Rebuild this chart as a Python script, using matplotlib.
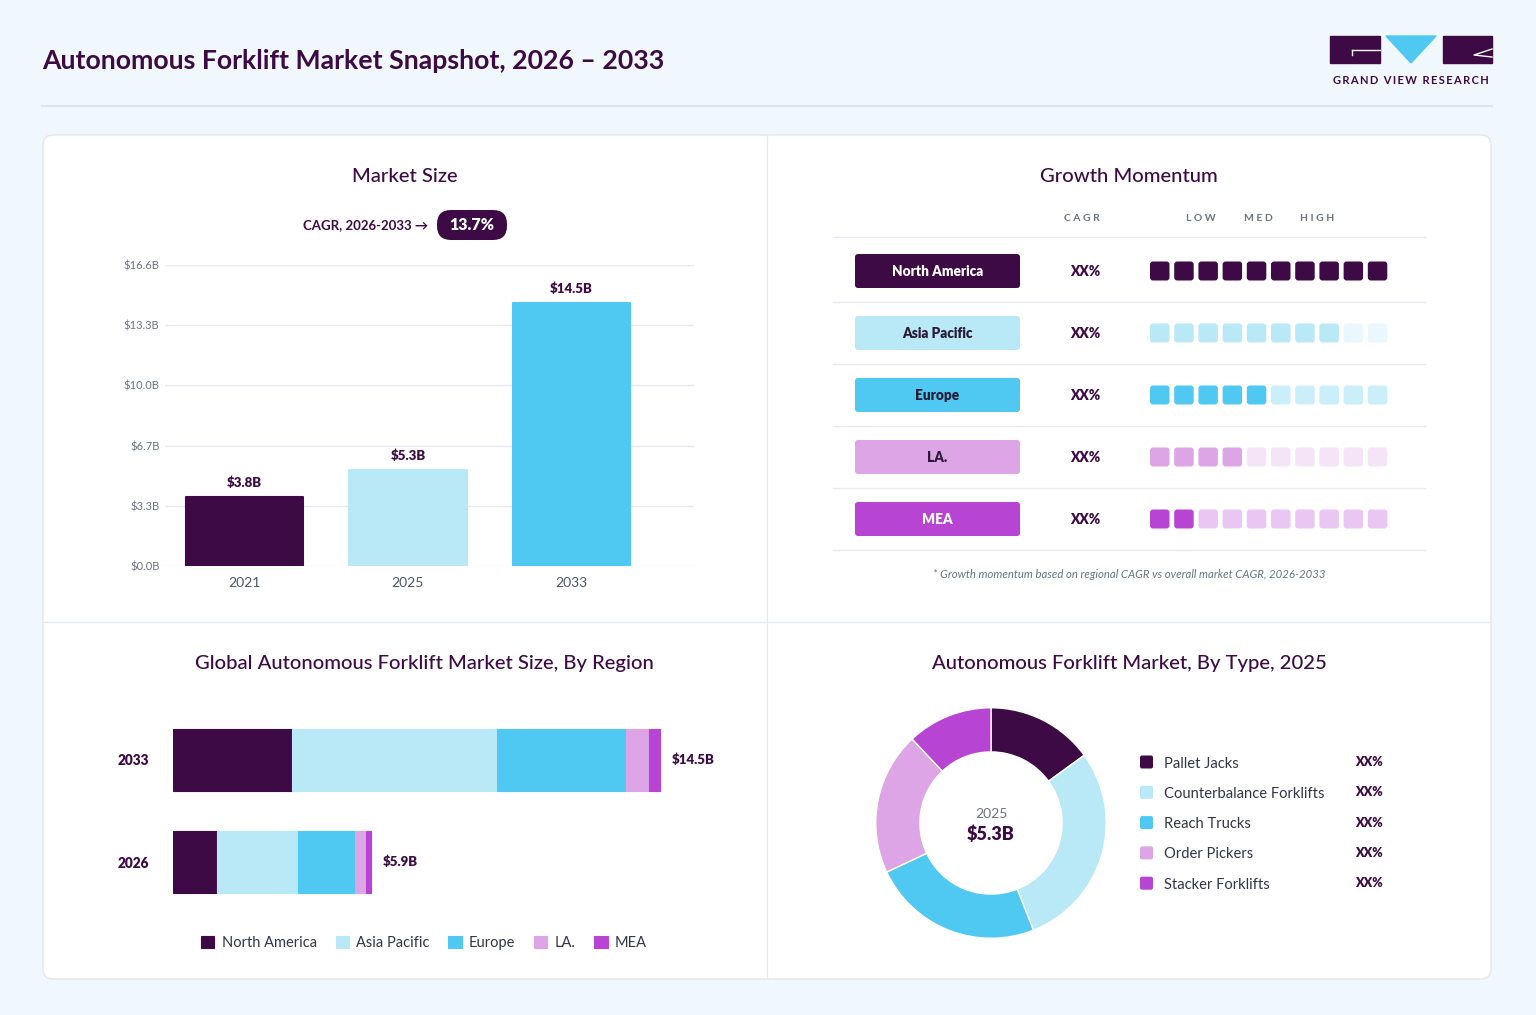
import matplotlib
matplotlib.use('Agg')
import matplotlib.pyplot as plt
from matplotlib.patches import FancyBboxPatch, Rectangle, Polygon
import numpy as np

plt.rcParams['font.family'] = ['Lato', 'DejaVu Sans']

W, H = 1536, 1015

# ---- data ----
years = ['2021', '2025', '2033']
market_size = [3.8, 5.3, 14.5]
cagr_value = '13.7%'
y_ticks = [0, 3.32, 6.64, 9.96, 13.28, 16.6]
y_tick_labels = ['$0.0B', '$3.3B', '$6.7B', '$10.0B', '$13.3B', '$16.6B']

regions = ['North America', 'Asia Pacific', 'Europe', 'LA.', 'MEA']
momentum_filled = [10, 8, 5, 4, 2]
momentum_cagr = ['XX%', 'XX%', 'XX%', 'XX%', 'XX%']

region_years = ['2026', '2033']
region_2026 = [1.32, 2.41, 1.69, 0.32, 0.16]
region_2033 = [3.54, 6.10, 3.83, 0.70, 0.33]

types = ['Pallet Jacks', 'Counterbalance Forklifts', 'Reach Trucks',
         'Order Pickers', 'Stacker Forklifts']
type_share = [15, 29, 24, 20, 12]
type_labels = ['XX%', 'XX%', 'XX%', 'XX%', 'XX%']
donut_year = '2025'
donut_total = '$5.3B'

# ---- colours ----
DARK = '#3D0A45'
AP = '#B9E8F7'
EU = '#4FC9F1'
LA = '#DDA5E6'
MEA = '#B844D4'
colors = [DARK, AP, EU, LA, MEA]
BG = '#F0F7FD'
GRID = '#E6EAF0'
GRAY = '#6B7280'
TXT = '#33334A'


def faint(c, a=0.3):
    r, g, b = matplotlib.colors.to_rgb(c)
    return (1 - a * (1 - r), 1 - a * (1 - g), 1 - a * (1 - b))


def px_axes(x0, y0, x1, y1):
    return fig.add_axes([x0 / W, 1 - y1 / H, (x1 - x0) / W, (y1 - y0) / H])


fig = plt.figure(figsize=(W / 100, H / 100), dpi=100, facecolor=BG)
bg = fig.add_axes([0, 0, 1, 1])
bg.set_xlim(0, W)
bg.set_ylim(H, 0)
bg.axis('off')

# header
bg.text(42, 61, 'Autonomous Forklift Market Snapshot, 2026 \u2013 2033', fontsize=19.2,
        fontweight='bold', color=DARK, va='center', ha='left')
bg.plot([42, 1492], [106, 106], color='#DDE4EE', lw=1.5)

# logo
bg.add_patch(Rectangle((1330, 36), 50, 27, color=DARK))
bg.plot([1352, 1380], [50, 50], color='white', lw=1)
bg.plot([1352, 1352], [50, 55], color='white', lw=1)
bg.add_patch(Polygon([(1386, 36), (1436, 36), (1411, 63)], color=EU))
bg.add_patch(Rectangle((1443, 36), 49, 27, color=DARK))
bg.plot([1492, 1474, 1492], [49, 55, 57], color='white', lw=1)
bg.text(1411, 80, '\u2009'.join('GRAND VIEW RESEARCH'), fontsize=8, color=DARK,
        ha='center', va='center', fontweight='bold')

# card
bg.add_patch(FancyBboxPatch((43, 135), 1448, 844, boxstyle='round,pad=0,rounding_size=10',
                            fc='white', ec='#E1E7EF', lw=1))
bg.plot([767, 767], [135, 979], color='#E6EBF2', lw=1)
bg.plot([43, 1491], [622, 622], color='#E6EBF2', lw=1)

title_kw = dict(fontsize=14.6, color=DARK, ha='center', va='center', fontweight='medium')
bg.text(405, 176, 'Market Size', **title_kw)
bg.text(1129, 176, 'Growth Momentum', **title_kw)
bg.text(424, 663, 'Global Autonomous Forklift Market Size, By Region', **title_kw)
bg.text(1129, 663, 'Autonomous Forklift Market, By Type, 2025', **title_kw)

# ---- market size bars ----
bg.text(428, 225, 'CAGR, 2026-2033 \u2192', fontsize=9.5, fontweight='bold', color=DARK,
        ha='right', va='center')
bg.add_patch(FancyBboxPatch((437, 210), 70, 30, boxstyle='round,pad=0,rounding_size=14',
                            fc=DARK, ec='none'))
bg.text(472, 225, cagr_value, fontsize=11.5, fontweight='heavy', color='white',
        ha='center', va='center')

ax1 = px_axes(165, 265, 694, 566)
x = np.arange(len(years))
ax1.bar(x, market_size, width=0.72, color=colors[:3], edgecolor=colors[:3],
        linewidth=1.5, joinstyle='round', zorder=3)
for i, v in enumerate(market_size):
    ax1.text(i, v + 0.77, f'${v:.1f}B', ha='center', va='center', fontsize=9.5,
             fontweight='heavy', color=DARK)
ax1.set_xlim(-0.486, 2.75)
ax1.set_ylim(0, 16.6)
ax1.set_yticks(y_ticks, y_tick_labels)
ax1.set_xticks(x, years)
ax1.grid(axis='y', color=GRID, lw=1, zorder=0)
ax1.tick_params(axis='y', length=0, pad=4, labelsize=8, labelcolor=GRAY)
ax1.tick_params(axis='x', length=0, pad=8, labelsize=10, labelcolor='#4B5563')
for s in ax1.spines.values():
    s.set_visible(False)
ax1.set_facecolor('none')

# ---- growth momentum table ----
hdr_kw = dict(fontsize=7.5, color=GRAY, ha='center', va='center', fontweight='bold')
bg.text(1082, 218, 'C A G R', **hdr_kw)
bg.text(1201, 218, 'L O W', **hdr_kw)
bg.text(1258, 218, 'M E D', **hdr_kw)
bg.text(1317, 218, 'H I G H', **hdr_kw)
bg.plot([833, 1425], [237, 237], color=GRID, lw=1)
for i, name in enumerate(regions):
    ry = 271 + 62 * i
    bg.plot([833, 1425], [ry + 31, ry + 31], color=GRID, lw=1)
    bg.add_patch(FancyBboxPatch((855, ry - 17), 165, 34, boxstyle='round,pad=0,rounding_size=3',
                                fc=colors[i], ec='none'))
    tc = 'white' if i in (0, 4) else '#2A1A35'
    bg.text(937.5, ry + 1, name, fontsize=9.8, fontweight='heavy', color=tc,
            ha='center', va='center')
    bg.text(1085, ry + 1, momentum_cagr[i], fontsize=9.8, fontweight='heavy', color=DARK,
            ha='center', va='center')
    for k in range(10):
        c = colors[i] if k < momentum_filled[i] else faint(colors[i])
        bg.add_patch(FancyBboxPatch((1150 + 24.2 * k, ry - 9.5), 19.5, 19,
                                    boxstyle='round,pad=0,rounding_size=3', fc=c, ec='none'))
bg.text(1129, 574, '* Growth momentum based on regional CAGR vs overall market CAGR, 2026-2033',
        fontsize=8.2, fontstyle='italic', color=GRAY, ha='center', va='center')

# ---- region stacked bars ----
ax2 = px_axes(173, 710, 733, 912)
vals = np.array([region_2026, region_2033])
left = np.zeros(2)
for j, name in enumerate(regions):
    ax2.barh([0, 1], vals[:, j], left=left, height=0.608, color=colors[j], label=name,
             edgecolor=colors[j], linewidth=0.8)
    left += vals[:, j]
for yi, tot in enumerate(left):
    ax2.text(tot + 0.33, yi, f'${tot:.1f}B', ha='left', va='center', fontsize=9.5,
             fontweight='heavy', color=DARK)
ax2.set_xlim(0, 560 / 33.6)
ax2.set_ylim(-0.49, 1.49)
ax2.set_yticks([0, 1], region_years)
ax2.set_xticks([])
ax2.tick_params(axis='y', length=0, pad=17, labelsize=9.8, labelcolor=DARK)
for lab in ax2.get_yticklabels():
    lab.set_fontweight('heavy')
for s in ax2.spines.values():
    s.set_visible(False)
ax2.set_facecolor('none')
leg = ax2.legend(loc='center', bbox_to_anchor=(424 / W, 1 - 943 / H),
                 bbox_transform=fig.transFigure, ncol=5, frameon=False,
                 handlelength=0.9, handleheight=0.9, handletextpad=0.5,
                 columnspacing=1.3, fontsize=10.5)
for t in leg.get_texts():
    t.set_color(TXT)

# ---- donut ----
ax3 = px_axes(991 - 121, 823 - 121, 991 + 121, 823 + 121)
ax3.pie(type_share, colors=colors, startangle=90, counterclock=False, radius=1,
        wedgeprops=dict(width=0.383, edgecolor='white', linewidth=1))
ax3.set_xlim(-1.05, 1.05)
ax3.set_ylim(-1.05, 1.05)
ax3.text(0, 0.08, donut_year, ha='center', va='center', fontsize=10, color=GRAY)
ax3.text(0, -0.1, donut_total, ha='center', va='center', fontsize=13, fontweight='heavy',
         color=DARK)

for i, name in enumerate(types):
    ly = 762 + 30.3 * i
    bg.add_patch(FancyBboxPatch((1140, ly - 6.5), 13, 13, boxstyle='round,pad=0,rounding_size=2',
                                fc=colors[i], ec='none'))
    bg.text(1164, ly + 1.5, name, fontsize=10.6, color=TXT, ha='left', va='center')
    bg.text(1369, ly, type_labels[i], fontsize=9, fontweight='heavy', color=DARK,
            ha='center', va='center')

fig.savefig('out.png', dpi=100, facecolor=BG)
